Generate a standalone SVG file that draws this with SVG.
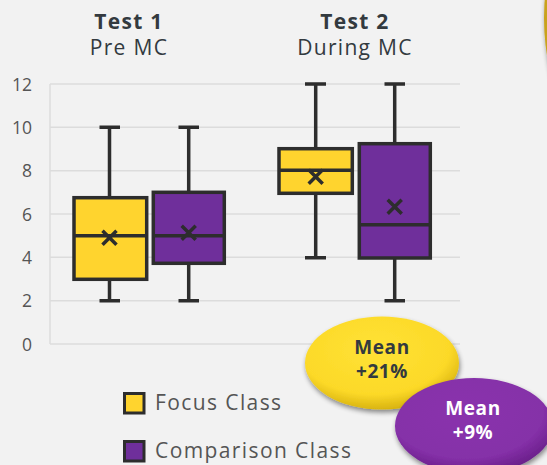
<svg xmlns="http://www.w3.org/2000/svg" width="547" height="465" viewBox="0 0 547 465">
<defs>
<style>
.title{font-family:"Open Sans",Lato,sans-serif;font-size:21px;fill:#333a3f;text-anchor:middle;letter-spacing:1.3px}
.tick{font-family:"Open Sans",Lato,sans-serif;font-size:17.5px;fill:#555;text-anchor:end}
.leg{font-family:"Open Sans",Lato,sans-serif;font-size:21px;fill:#555;letter-spacing:1.4px}
.grid{stroke:#dcdcdc;stroke-width:1.5}
.box{stroke:#2d2d2d;stroke-width:3.5}
.wh{stroke:#2d2d2d;stroke-width:3.5;fill:none}
.yel{fill:#ffd42e}
.pur{fill:#6f2f9b}
.mean{font-family:"Open Sans",Lato,sans-serif;font-size:19px;font-weight:bold;text-anchor:middle;letter-spacing:0.6px}
</style>
<radialGradient id="gy" cx="0.45" cy="0.35" r="0.65">
<stop offset="0" stop-color="#ffe235"/>
<stop offset="0.75" stop-color="#fcd928"/>
<stop offset="1" stop-color="#d9b410"/>
</radialGradient>
<radialGradient id="gp" cx="0.45" cy="0.35" r="0.65">
<stop offset="0" stop-color="#8a33ad"/>
<stop offset="0.75" stop-color="#8530a8"/>
<stop offset="1" stop-color="#6a1f8a"/>
</radialGradient>
<filter id="sh" x="-20%" y="-20%" width="140%" height="150%">
<feGaussianBlur in="SourceAlpha" stdDeviation="2.5"/>
<feOffset dx="1" dy="3" result="b"/>
<feComponentTransfer><feFuncA type="linear" slope="0.45"/></feComponentTransfer>
<feMerge><feMergeNode/><feMergeNode in="SourceGraphic"/></feMerge>
</filter>
</defs>
<rect width="547" height="465" fill="#f2f2f2"/>

<g id="corner-bubble">
<ellipse cx="624" cy="18" rx="80" ry="140" fill="#c9a21c" filter="url(#sh)"/>
</g>

<g id="titles">
<text class="title" x="129" y="29" font-weight="bold">Test 1</text>
<text class="title" x="129" y="55">Pre MC</text>
<text class="title" x="355" y="29" font-weight="bold">Test 2</text>
<text class="title" x="355" y="55">During MC</text>
</g>

<g id="axis">
<line class="grid" x1="50" y1="84" x2="460" y2="84"/>
<line class="grid" x1="50" y1="127.3" x2="460" y2="127.3"/>
<line class="grid" x1="50" y1="170.7" x2="460" y2="170.7"/>
<line class="grid" x1="50" y1="214" x2="460" y2="214"/>
<line class="grid" x1="50" y1="257.3" x2="460" y2="257.3"/>
<line class="grid" x1="50" y1="300.7" x2="460" y2="300.7"/>
<line class="grid" x1="50" y1="344" x2="460" y2="344"/>
<line class="grid" x1="50" y1="84" x2="50" y2="344"/>
<text class="tick" x="32" y="90.5">12</text>
<text class="tick" x="32" y="133.8">10</text>
<text class="tick" x="32" y="177.2">8</text>
<text class="tick" x="32" y="220.5">6</text>
<text class="tick" x="32" y="263.8">4</text>
<text class="tick" x="32" y="307.2">2</text>
<text class="tick" x="32" y="350.5">0</text>
</g>

<g id="box-test1-focus">
<path class="wh" d="M99.5 127.3H120M109.5 127.3V197.7M109.5 279.3V300.7M99.5 300.7H120"/>
<rect class="box yel" x="74" y="197.7" width="72.7" height="81.6"/>
<line class="wh" x1="74" y1="235.7" x2="146.7" y2="235.7"/>
<path class="wh" d="M102.5 230.7l14 14M116.5 230.7l-14 14"/>
</g>

<g id="box-test1-comparison">
<path class="wh" d="M178.5 127.3H199M188.7 127.3V192.3M188.7 263.3V300.7M178.5 300.7H199"/>
<rect class="box pur" x="153.3" y="192.3" width="71" height="71"/>
<line class="wh" x1="153.3" y1="235.7" x2="224.3" y2="235.7"/>
<path class="wh" d="M181.7 225.7l14 14M195.7 225.7l-14 14"/>
</g>

<g id="box-test2-focus">
<path class="wh" d="M305 84H326M315.7 84V148.7M315.7 193.3V257.7M305 257.7H326"/>
<rect class="box yel" x="279" y="148.7" width="73.3" height="44.6"/>
<line class="wh" x1="279" y1="170.2" x2="352.3" y2="170.2"/>
<path class="wh" d="M308.7 169.7l14 14M322.7 169.7l-14 14"/>
</g>

<g id="box-test2-comparison">
<path class="wh" d="M384.5 84H405M394.7 84V143.7M394.7 258V300.7M384.5 300.7H405"/>
<rect class="box pur" x="359.3" y="143.7" width="71" height="114.3"/>
<line class="wh" x1="359.3" y1="224.7" x2="430.3" y2="224.7"/>
<path class="wh" d="M387.7 199.7l14 14M401.7 199.7l-14 14"/>
</g>

<g id="legend">
<rect class="yel" x="124.5" y="393.5" width="19.5" height="19.5" stroke="#2d2d2d" stroke-width="3"/>
<text class="leg" x="155" y="409.5">Focus Class</text>
<rect class="pur" x="124.5" y="441.5" width="19.5" height="19.5" stroke="#2d2d2d" stroke-width="3"/>
<text class="leg" x="155" y="457.5">Comparison Class</text>
</g>

<g id="bubble-focus">
<ellipse cx="382" cy="363" rx="77" ry="46.5" fill="url(#gy)" filter="url(#sh)"/>
<text class="mean" x="382" y="354" fill="#333a3f">Mean</text>
<text class="mean" x="382" y="378" fill="#333a3f">+21%</text>
</g>

<g id="bubble-comparison">
<ellipse cx="474" cy="426" rx="79" ry="48" fill="url(#gp)" filter="url(#sh)"/>
<text class="mean" x="473" y="415" fill="#ffffff">Mean</text>
<text class="mean" x="473" y="439" fill="#ffffff">+9%</text>
</g>
</svg>
